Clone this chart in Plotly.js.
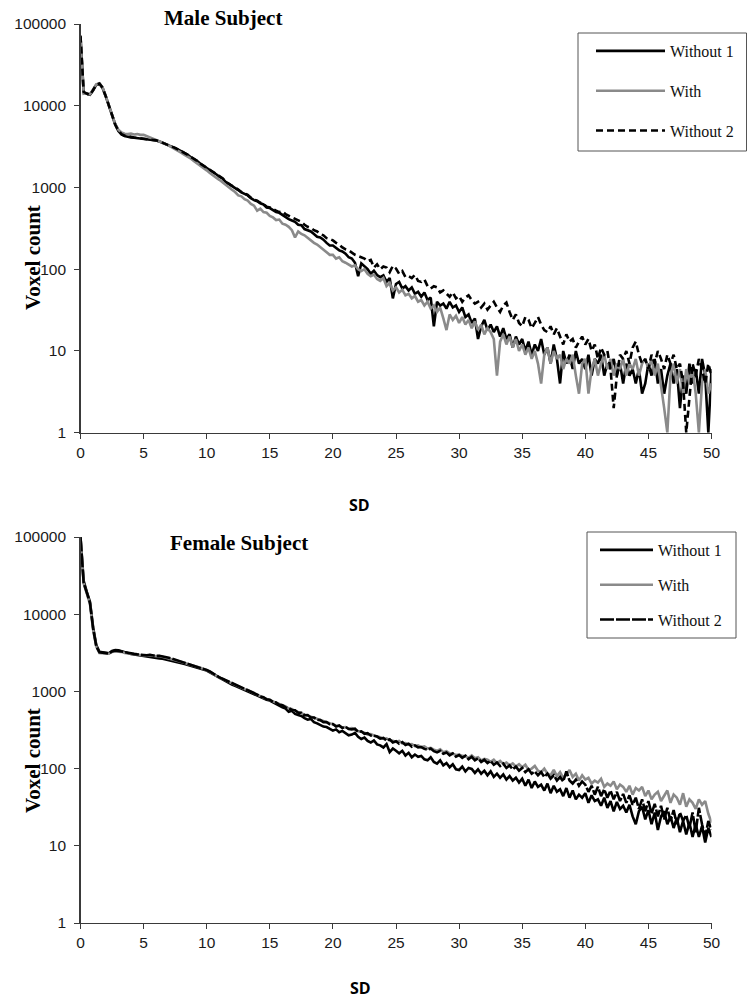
<!DOCTYPE html>
<html>
<head>
<meta charset="utf-8">
<script src="https://cdn.plot.ly/plotly-3.0.1.min.js"></script>
<style>html,body{margin:0;padding:0;background:#fff;}#chart{width:747px;height:1002px;}</style>
</head>
<body>
<div id="chart"></div>
<script>
// SD grid (x values, step 0.25)
const SD = [
0,0.25,0.5,0.75,1,1.25,1.5,1.75,2,2.25,2.5,2.75,3,3.25,3.5,3.75,4,4.25,4.5,4.75,
5,5.25,5.5,5.75,6,6.25,6.5,6.75,7,7.25,7.5,7.75,8,8.25,8.5,8.75,9,9.25,9.5,9.75,
10,10.25,10.5,10.75,11,11.25,11.5,11.75,12,12.25,12.5,12.75,13,13.25,13.5,13.75,14,14.25,14.5,14.75,
15,15.25,15.5,15.75,16,16.25,16.5,16.75,17,17.25,17.5,17.75,18,18.25,18.5,18.75,19,19.25,19.5,19.75,
20,20.25,20.5,20.75,21,21.25,21.5,21.75,22,22.25,22.5,22.75,23,23.25,23.5,23.75,24,24.25,24.5,24.75,
25,25.25,25.5,25.75,26,26.25,26.5,26.75,27,27.25,27.5,27.75,28,28.25,28.5,28.75,29,29.25,29.5,29.75,
30,30.25,30.5,30.75,31,31.25,31.5,31.75,32,32.25,32.5,32.75,33,33.25,33.5,33.75,34,34.25,34.5,34.75,
35,35.25,35.5,35.75,36,36.25,36.5,36.75,37,37.25,37.5,37.75,38,38.25,38.5,38.75,39,39.25,39.5,39.75,
40,40.25,40.5,40.75,41,41.25,41.5,41.75,42,42.25,42.5,42.75,43,43.25,43.5,43.75,44,44.25,44.5,44.75,
45,45.25,45.5,45.75,46,46.25,46.5,46.75,47,47.25,47.5,47.75,48,48.25,48.5,48.75,49,49.25,49.5,49.75,
50];

// Male subject
const male_without1 = [
70000,14500,14000,13600,15500,18000,18600,16500,13000,10000,7600,5900,4900,4450,4250,4150,4100,4050,4000,3980,
3950,3920,3880,3820,3760,3650,3530,3420,3300,3180,3030,2900,2780,2650,2500,2340,2230,2100,1950,1840,
1760,1650,1560,1450,1360,1290,1170,1110,1030,980,930,870,830,800,740,700,680,640,620,570,
560,530,500,490,460,430,410,395,380,350,345,310,300,290,270,250,245,230,210,195,
195,180,170,165,155,140,135,120,82,118,110,100,88,96,85,80,84,70,78,44,
66,70,58,62,55,60,50,53,46,52,42,45,20,40,36,38,33,40,34,36,
30,34,26,28,22,25,14,20,24,18,21,17,20,15,19,14,16,11,15,12,
14,10,13,9,12,10,14,9,11,7,12,8,4,10,7,9,6,10,7,8,
6,9,5,8,7,9,5,7,6,8,5,7,4,7,5,6,4,6,3,4,
7,5,8,4,6,3,5,7,4,6,2,5,3,7,4,6,3,8,5,1,
6];
const male_with = [
68000,14000,14200,13800,15800,18300,18800,16800,13200,10200,7800,6000,5100,4700,4550,4500,4550,4450,4500,4400,
4400,4250,4100,3950,3800,3650,3500,3400,3250,3100,2950,2800,2650,2500,2380,2250,2100,1980,1850,1720,
1620,1500,1420,1320,1240,1150,1080,1000,940,880,800,780,720,690,630,600,520,550,500,490,
450,430,400,405,360,350,330,300,245,290,270,260,240,225,210,200,185,175,160,150,
150,135,140,125,120,115,108,112,100,95,100,88,82,86,76,72,78,62,68,55,
60,52,56,48,50,44,47,40,42,36,40,33,36,30,34,25,18,28,24,27,
22,26,21,24,19,23,18,21,16,19,17,14,5,13,16,12,15,11,14,10,
12,9,11,8,10,7,4,9,11,7,10,8,9,6,8,7,9,5,3,7,
8,3,6,8,5,7,9,6,8,5,7,6,8,5,7,6,8,5,7,8,
6,8,5,7,4,2,1,5,7,4,6,3,6,4,6,3,1,4,6,3,
4];
const male_without2 = [
72000,14800,14100,13500,15600,18100,18700,16600,13100,10100,7700,5900,4950,4500,4300,4200,4150,4080,4050,4000,
3970,3930,3900,3840,3770,3660,3540,3430,3310,3190,3040,2910,2790,2660,2510,2360,2240,2110,1960,1850,
1770,1660,1570,1460,1370,1300,1180,1120,1040,990,940,880,840,810,750,710,690,650,630,580,
570,540,520,500,510,470,450,440,420,400,380,350,330,320,300,290,270,260,240,235,
225,210,200,185,175,170,160,150,145,140,135,125,130,105,115,100,108,105,92,110,
102,88,95,80,82,78,85,72,70,75,62,58,62,60,52,55,50,46,52,44,
47,40,45,48,42,38,40,34,38,32,36,40,34,30,36,39,30,24,28,22,
20,26,24,19,22,26,21,18,17,20,16,19,15,12,16,13,14,11,13,15,
12,14,10,12,8,11,9,10,6,2,5,9,8,10,7,11,13,9,7,8,
6,9,7,10,8,6,9,7,9,6,7,4,1,3,7,5,8,6,4,7,
5];

// Female subject
const female_without1 = [
100000,27000,19500,14500,6800,4000,3250,3200,3150,3120,3350,3420,3400,3300,3180,3150,3050,3000,2950,2920,
2880,2850,2800,2760,2720,2680,2650,2600,2550,2500,2440,2380,2320,2260,2200,2150,2080,2040,1990,1930,
1860,1770,1680,1590,1490,1430,1370,1300,1230,1180,1130,1090,1050,1010,960,920,880,850,810,780,
760,720,690,650,620,600,545,560,510,495,480,450,430,440,400,385,365,350,345,325,
310,322,296,308,288,270,276,290,258,242,252,228,218,232,206,200,188,208,164,182,
170,158,170,148,160,140,152,142,146,132,128,140,122,116,128,110,118,104,114,98,
96,106,92,102,99,88,98,86,94,82,92,78,86,76,84,72,80,70,76,66,
74,60,72,56,68,58,62,52,64,48,60,50,54,44,56,42,52,40,46,42,
48,36,45,38,40,33,42,31,38,28,37,30,33,27,34,24,19,28,32,22,
29,19,27,16,24,28,19,24,17,23,15,21,14,20,13,19,13,18,11,17,
13];
const female_with = [
98000,25000,18500,13500,6300,3800,3150,3100,3100,3080,3250,3300,3300,3250,3150,3120,3080,3050,3000,3020,
2950,2900,2950,2880,2850,2870,2800,2780,2700,2650,2560,2500,2420,2350,2270,2220,2130,2080,2020,1960,
1880,1800,1690,1600,1500,1450,1390,1320,1250,1200,1150,1110,1070,1040,990,950,900,870,830,800,
770,740,710,680,650,640,600,590,560,545,520,500,490,470,455,440,420,405,395,380,
370,362,358,340,345,330,334,318,305,300,292,276,280,268,262,255,242,246,232,230,
222,228,212,214,205,208,196,200,190,194,182,186,176,170,178,163,168,158,156,150,
152,146,144,138,148,136,140,128,134,130,122,130,118,126,114,120,110,117,106,114,
104,112,96,100,108,94,90,100,86,82,96,80,90,76,84,96,78,86,70,82,
72,76,64,70,66,74,58,64,60,68,54,62,58,50,60,46,56,52,58,44,
52,40,46,50,38,44,52,36,46,42,34,48,32,40,36,30,40,34,38,26,
20];
const female_without2 = [
99000,25500,19000,14000,6500,3850,3200,3150,3120,3100,3300,3380,3350,3280,3200,3150,3100,3060,3020,3000,
2970,2930,2980,2900,2880,2900,2820,2790,2720,2660,2580,2510,2440,2360,2290,2230,2150,2090,2030,1970,
1890,1810,1700,1610,1520,1460,1400,1330,1260,1210,1160,1120,1080,1030,1000,940,910,860,840,790,
780,730,720,670,660,620,610,575,570,530,530,490,495,460,460,430,425,400,400,375,
378,350,362,336,348,326,322,328,298,304,282,288,268,266,260,244,250,230,240,218,
226,210,220,202,210,192,200,188,190,180,176,182,168,162,170,156,162,148,157,143,
150,138,147,132,142,128,136,122,130,118,126,112,120,108,116,102,110,98,106,94,
102,90,98,86,92,82,90,78,86,74,82,70,78,68,92,70,64,72,60,68,
62,50,60,46,58,44,54,42,52,40,50,38,47,36,45,34,42,30,40,28,
38,26,35,24,33,22,31,21,29,19,27,21,25,17,27,15,31,19,13,21,
16];

const seriesNames = ["Without 1", "With", "Without 2"];
const chartTitles = ["Male Subject", "Female Subject"];
const yTickVals = [1, 10, 100, 1000, 10000, 100000];
const yTickText = ["1", "10", "100", "1000", "10000", "100000"];
const xTitle = "SD";
const yTitle = "Voxel count";

const W = 747, H = 1002;
const px = v => v / W;
const py = v => 1 - v / H;

const black = '#000000';
const gray = '#8a8a8a';

const traces = [
  {x: SD, y: male_without1, name: seriesNames[0], legendgroup: 'm1', legend: 'legend',
   type: 'scatter', mode: 'lines', line: {color: black, width: 2.6}, xaxis: 'x', yaxis: 'y'},
  {x: SD, y: male_with, name: seriesNames[1], legendgroup: 'm2', legend: 'legend',
   type: 'scatter', mode: 'lines', line: {color: gray, width: 2.6}, xaxis: 'x', yaxis: 'y'},
  {x: SD, y: male_without2, name: seriesNames[2], legendgroup: 'm3', legend: 'legend',
   type: 'scatter', mode: 'lines', line: {color: black, width: 2.6, dash: '7px,4px'}, xaxis: 'x', yaxis: 'y'},
  {x: SD, y: female_without1, name: seriesNames[0], legendgroup: 'f1', legend: 'legend2',
   type: 'scatter', mode: 'lines', line: {color: black, width: 2.6}, xaxis: 'x2', yaxis: 'y2'},
  {x: SD, y: female_with, name: seriesNames[1], legendgroup: 'f2', legend: 'legend2',
   type: 'scatter', mode: 'lines', line: {color: gray, width: 2.6}, xaxis: 'x2', yaxis: 'y2'},
  {x: SD, y: female_without2, name: seriesNames[2], legendgroup: 'f3', legend: 'legend2',
   type: 'scatter', mode: 'lines', line: {color: black, width: 2.6, dash: '14px,2px'}, xaxis: 'x2', yaxis: 'y2'}
];

const tickFont = {family: 'Liberation Sans, Arial, sans-serif', size: 15.5, color: '#1a1a1a'};
const axisColor = '#3a3a3a';

function xAxis(anchor) {
  return {anchor: anchor, domain: [px(80.5), px(711.5)], range: [0, 50], tick0: 0, dtick: 5,
    ticks: 'outside', ticklen: 5, tickwidth: 1, tickcolor: axisColor,
    showline: true, linecolor: axisColor, linewidth: 1.3, showgrid: false, zeroline: false,
    tickfont: tickFont, fixedrange: true};
}
function yAxis(anchor, top, bottom) {
  return {anchor: anchor, domain: [py(bottom), py(top)], type: 'log', range: [0, 5],
    tickvals: yTickVals, ticktext: yTickText,
    ticks: 'outside', ticklen: 5, tickwidth: 1, tickcolor: axisColor,
    showline: true, linecolor: axisColor, linewidth: 1.3, showgrid: false, zeroline: false,
    tickfont: tickFont, ticklabelstandoff: 5, fixedrange: true};
}

const legendFont = {family: 'Liberation Serif, Times New Roman, serif', size: 16, color: '#111'};
const serif = 'Liberation Serif, Times New Roman, serif';

const layout = {
  width: W, height: H,
  margin: {l: 0, r: 0, t: 0, b: 0},
  paper_bgcolor: '#ffffff', plot_bgcolor: '#ffffff',
  showlegend: true,
  xaxis: xAxis('y'),
  yaxis: yAxis('x', 24, 432.7),
  xaxis2: xAxis('y2'),
  yaxis2: yAxis('x2', 537, 923),
  legend: {x: px(591), xanchor: 'left', y: py(34), yanchor: 'top',
    borderwidth: 0, bgcolor: 'rgba(0,0,0,0)', font: legendFont,
    itemwidth: 69, tracegroupgap: 16, traceorder: 'grouped'},
  legend2: {x: px(595), xanchor: 'left', y: py(533), yanchor: 'top',
    borderwidth: 0, bgcolor: 'rgba(0,0,0,0)', font: legendFont,
    itemwidth: 53, tracegroupgap: 11, traceorder: 'grouped'},
  shapes: [
    {type: 'rect', xref: 'paper', yref: 'paper', x0: px(578), x1: px(746.5), y0: py(151), y1: py(33),
     line: {color: '#555', width: 1}, fillcolor: '#ffffff', layer: 'above'},
    {type: 'rect', xref: 'paper', yref: 'paper', x0: px(587), x1: px(736), y0: py(638), y1: py(532),
     line: {color: '#555', width: 1}, fillcolor: '#ffffff', layer: 'above'}
  ],
  annotations: [
    {text: '<b>' + chartTitles[0] + '</b>', xref: 'paper', yref: 'paper', x: px(223), y: py(18),
     xanchor: 'center', yanchor: 'middle', showarrow: false,
     font: {family: serif, size: 21, color: '#000'}},
    {text: '<b>' + chartTitles[1] + '</b>', xref: 'paper', yref: 'paper', x: px(239), y: py(543),
     xanchor: 'center', yanchor: 'middle', showarrow: false,
     font: {family: serif, size: 21, color: '#000'}},
    {text: '<b>' + yTitle + '</b>', xref: 'paper', yref: 'paper', x: px(33), y: py(258), textangle: -90,
     xanchor: 'center', yanchor: 'middle', showarrow: false,
     font: {family: serif, size: 21, color: '#000'}},
    {text: '<b>' + yTitle + '</b>', xref: 'paper', yref: 'paper', x: px(33), y: py(761), textangle: -90,
     xanchor: 'center', yanchor: 'middle', showarrow: false,
     font: {family: serif, size: 21, color: '#000'}},
    {text: '<b>' + xTitle + '</b>', xref: 'paper', yref: 'paper', x: px(359), y: py(505),
     xanchor: 'center', yanchor: 'middle', showarrow: false,
     font: {family: 'Open Sans, sans-serif', size: 16, color: '#000'}},
    {text: '<b>' + xTitle + '</b>', xref: 'paper', yref: 'paper', x: px(360), y: py(1001),
     xanchor: 'center', yanchor: 'bottom', showarrow: false,
     font: {family: 'Open Sans, sans-serif', size: 16, color: '#000'}}
  ]
};

Plotly.newPlot('chart', traces, layout, {staticPlot: true, displayModeBar: false});
</script>
</body>
</html>
